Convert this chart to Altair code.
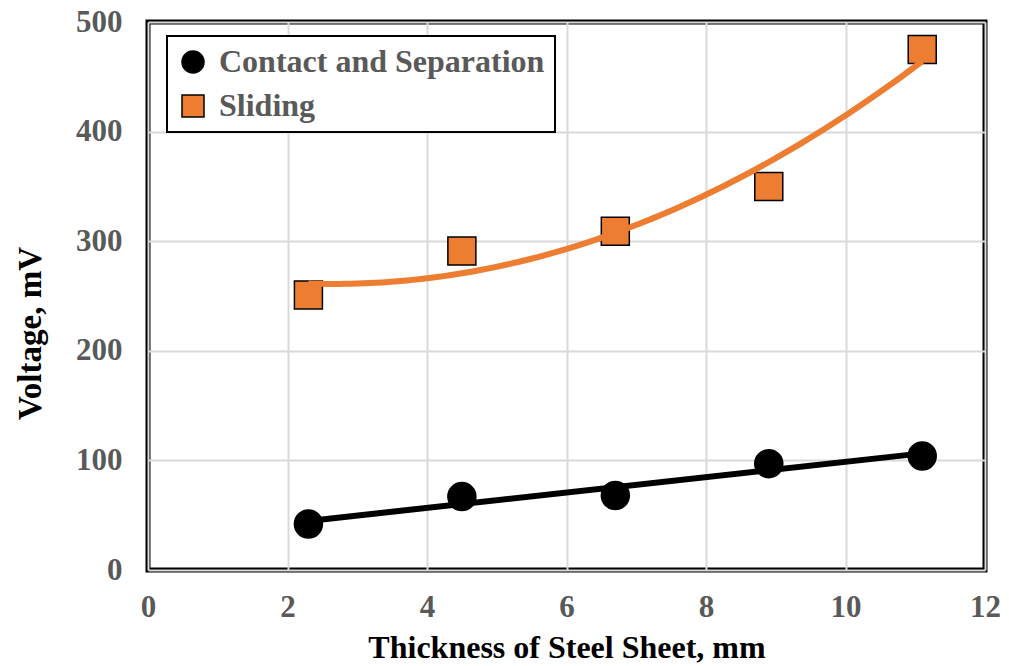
import altair as alt
import pandas as pd

thickness = [2.3, 4.5, 6.7, 8.9, 11.1]
contact = [42, 67, 68, 97, 104]
sliding = [251, 291, 309, 350, 475]
series_names = ["Contact and Separation", "Sliding"]
series_colors = ["#000000", "#ED7D31"]
series_shapes = ["circle", "square"]
x_ticks = [0, 2, 4, 6, 8, 10, 12]
y_ticks = [0, 100, 200, 300, 400, 500]

df = pd.DataFrame({
    "x": thickness + thickness,
    "y": contact + sliding,
    "series": [series_names[0]] * len(thickness) + [series_names[1]] * len(thickness),
})

FONT = "Liberation Serif"
LABEL_GRAY = "#595959"

x_enc = alt.X(
    "x:Q",
    scale=alt.Scale(domain=[0, 12], nice=False, zero=False),
    axis=alt.Axis(
        values=x_ticks, format="d", title="Thickness of Steel Sheet, mm", grid=True,
        ticks=False, domain=False, labelPadding=22, labelFontSize=31,
        labelFont=FONT, labelFontWeight="bold", labelColor=LABEL_GRAY,
        titleFont=FONT, titleFontSize=32, titleFontWeight="bold", titleColor="black",
        titleBaseline="alphabetic", titleY=87, gridColor="#d9d9d9", gridWidth=2,
        labelFlush=False,
    ),
)
y_enc = alt.Y(
    "y:Q",
    scale=alt.Scale(domain=[0, 500], nice=False),
    axis=alt.Axis(
        values=y_ticks, format="d", title="Voltage, mV", grid=True,
        ticks=False, domain=False, labelPadding=26, labelFontSize=31,
        labelFont=FONT, labelFontWeight="bold", labelColor=LABEL_GRAY,
        titleFont=FONT, titleFontSize=33, titleFontWeight="bold", titleColor="black",
        titleAngle=-90, titleBaseline="alphabetic", titleX=-108, titleY=311,
        gridColor="#d9d9d9", gridWidth=2, labelFlush=False,
    ),
)

legend = alt.Legend(
    title=None, orient="none", legendX=19, legendY=14,
    labelFont=FONT, labelFontSize=32, labelFontWeight="bold", labelColor=LABEL_GRAY,
    symbolSize=484, symbolStrokeColor="black", symbolStrokeWidth=1.5,
    fillColor="white", strokeColor="black", padding=10, rowPadding=12,
    labelOffset=10, labelLimit=500,
)

points = alt.Chart(df).mark_point(
    filled=True, size=784, opacity=1, stroke="black", strokeWidth=1.5
).encode(
    x=x_enc, y=y_enc,
    color=alt.Color("series:N", scale=alt.Scale(domain=series_names, range=series_colors), legend=legend),
    shape=alt.Shape("series:N", scale=alt.Scale(domain=series_names, range=series_shapes), legend=legend),
)

contact_fit = alt.Chart(df).transform_filter(
    alt.datum.series == series_names[0]
).transform_regression("x", "y", method="linear").mark_line(
    color=series_colors[0], strokeWidth=6
).encode(x="x:Q", y="y:Q")

sliding_fit = alt.Chart(df).transform_filter(
    alt.datum.series == series_names[1]
).transform_regression("x", "y", method="poly", order=2).mark_line(
    color=series_colors[1], strokeWidth=6
).encode(x="x:Q", y="y:Q")

chart = alt.layer(points, contact_fit, sliding_fit).properties(
    width=837, height=548,
    autosize=alt.AutoSizeParams(type="none"),
    padding={"left": 140, "top": 14, "right": 16, "bottom": 96},
).configure_view(
    stroke="black", strokeWidth=5
).configure_legend(
    strokeWidth=2
)

chart.save("out.html", embed_options={"renderer": "svg", "actions": False})
